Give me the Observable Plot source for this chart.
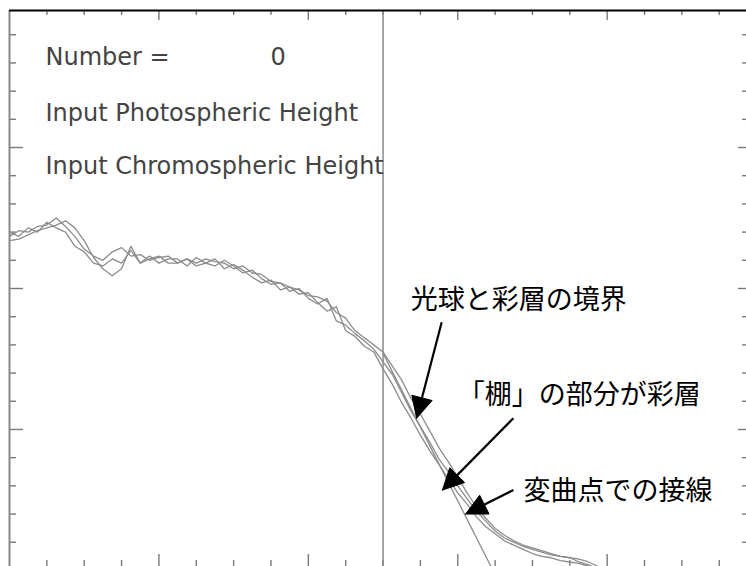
<!DOCTYPE html>
<html><head><meta charset="utf-8">
<script src="https://cdn.jsdelivr.net/npm/d3@7"></script>
<script src="https://cdn.jsdelivr.net/npm/@observablehq/plot@0.6"></script>
<style>
html,body{margin:0;padding:0;background:#fff;}
#chart svg{display:block;}
</style></head><body><div id="chart"></div>
<script>
// sample heights (x, arbitrary units; major tick every 4)
const heights = [0,0.25,0.5,0.75,1,1.25,1.5,1.75,2,2.25,2.5,2.75,3,3.25,3.5,3.75,4,4.25,4.5,4.75,5,5.25,5.5,5.75,6,6.25,6.5,6.75,7,7.25,7.5,7.75,8,8.25,8.5,8.75,9,9.25,9.5,9.75,10,10.25,10.5,10.75,11,11.25,11.5,11.75,12,12.25,12.5,12.75,13,13.25,13.5,13.75,14,14.25,14.5,14.75,15,15.25,15.5,15.75];
// three measured intensity profiles
const profileA = [2.37,2.41,2.40,2.44,2.45,2.50,2.44,2.37,2.28,2.23,2.20,2.26,2.29,2.23,2.24,2.20,2.22,2.23,2.18,2.21,2.18,2.21,2.19,2.18,2.14,2.16,2.11,2.10,2.05,2.04,2.01,1.99,1.95,1.94,1.91,1.83,1.79,1.70,1.65,1.60,1.55,1.45,1.35,1.22,1.11,0.99,0.87,0.77,0.66,0.55,0.45,0.37,0.30,0.25,0.21,0.18,0.16,0.14,0.12,0.10,0.09,0.08,0.06,0.03];
const profileB = [2.40,2.37,2.43,2.40,2.47,2.43,2.40,2.30,2.26,2.18,2.16,2.21,2.18,2.27,2.18,2.23,2.18,2.21,2.21,2.16,2.22,2.18,2.16,2.20,2.16,2.11,2.13,2.07,2.03,2.04,1.98,2.00,1.93,1.89,1.93,1.77,1.74,1.68,1.63,1.57,1.48,1.39,1.26,1.13,1.02,0.91,0.79,0.70,0.60,0.51,0.42,0.35,0.28,0.23,0.20,0.17,0.15,0.13,0.11,0.10,0.09,0.06,0.04,0.01];
const profileC = [2.34,2.35,2.38,2.41,2.43,2.45,2.48,2.43,2.34,2.22,2.14,2.09,2.14,2.30,2.18,2.21,2.23,2.18,2.18,2.21,2.16,2.18,2.21,2.14,2.17,2.13,2.08,2.04,2.06,1.99,2.01,1.96,1.97,1.90,1.84,1.87,1.70,1.66,1.59,1.55,1.43,1.32,1.19,1.08,0.96,0.85,0.75,0.65,0.55,0.47,0.38,0.31,0.26,0.21,0.18,0.15,0.12,0.10,0.09,0.07,0.06,0.05,0.03,0.00];
const boundaryHeight = 10;
const tangentX = [10, 13];
const tangentY = [1.54, -0.03];
const xMajorTicks = [4, 8, 12, 16];
const xMinorTicks = [1,2,3,5,6,7,9,10,11,13,14,15,17,18,19];
const yMajorTicks = [1, 2, 3];
const yMinorTicks = [0.2,0.4,0.6,0.8,1.2,1.4,1.6,1.8,2.2,2.4,2.6,2.8,3.2,3.4,3.6,3.8];
const infoLabels = ["Number =", "0", "Input Photospheric Height", "Input Chromospheric Height"];
const notes = ["光球と彩層の境界", "「棚」の部分が彩層", "変曲点での接線"];

const W = 746, H = 566, mt = 10, ml = 9;
const xDomain = [0, 19.73], yDomain = [0.028, 3.972];
const plotW = W - ml, plotH = H - mt;

const series = [];
[profileA, profileB, profileC].forEach((p, k) =>
  p.forEach((v, i) => series.push({h: heights[i], v, s: "abc"[k]})));

const infoPos = [[0.964, 3.64], [6.988, 3.64], [0.964, 3.24], [0.964, 2.865]];
const info = infoLabels.map((t, i) => ({t, x: infoPos[i][0], y: infoPos[i][1]}));
const notePos = [[10.74, 1.915], [12.0, 1.24], [13.76, 0.56]];
const noteData = notes.map((t, i) => ({t, x: notePos[i][0], y: notePos[i][1]}));

const arrowSpecs = [
  {x1: 11.57, y1: 1.76, x2: 10.90, y2: 1.08},
  {x1: 13.49, y1: 1.08, x2: 11.59, y2: 0.57},
  {x1: 13.49, y1: 0.57, x2: 12.21, y2: 0.40}
];
const sx = Plot.scale({x: {domain: xDomain, range: [ml, W]}});
const sy = Plot.scale({y: {domain: yDomain, range: [H, mt]}});
const shafts = [], heads = [];
arrowSpecs.forEach((a, i) => {
  const p1 = [sx.apply(a.x1), sy.apply(a.y1)], p2 = [sx.apply(a.x2), sy.apply(a.y2)];
  const dx = p2[0] - p1[0], dy = p2[1] - p1[1], n = Math.hypot(dx, dy);
  const ux = dx / n, uy = dy / n, L = 21, hw = 10.5;
  const bx = p2[0] - L * ux, by = p2[1] - L * uy;
  shafts.push({x1: a.x1, y1: a.y1, x2: sx.invert(p2[0] - 0.5 * L * ux), y2: sy.invert(p2[1] - 0.5 * L * uy)});
  const pts = [[p2[0], p2[1]], [bx - hw * uy, by + hw * ux], [bx + hw * uy, by - hw * ux], [p2[0], p2[1]]];
  pts.forEach(q => heads.push({id: i, x: sx.invert(q[0]), y: sy.invert(q[1])}));
});

const tickStyle = {stroke: "#7a7a7a", strokeWidth: 1.4};
const chart = Plot.plot({
  width: W, height: H,
  marginTop: mt, marginLeft: ml, marginRight: 0, marginBottom: 0,
  x: {domain: xDomain, axis: null},
  y: {domain: yDomain, axis: null},
  style: {background: "#fff"},
  marks: [
    Plot.tickX(xMinorTicks, {x: d => d, ...tickStyle, insetBottom: plotH - 5}),
    Plot.tickX(xMajorTicks, {x: d => d, ...tickStyle, insetBottom: plotH - 10}),
    Plot.tickX(xMinorTicks, {x: d => d, ...tickStyle, insetTop: plotH - 6}),
    Plot.tickX(xMajorTicks, {x: d => d, ...tickStyle, insetTop: plotH - 12}),
    Plot.tickY(yMinorTicks, {y: d => d, ...tickStyle, insetRight: plotW - 7}),
    Plot.tickY(yMajorTicks, {y: d => d, ...tickStyle, insetRight: plotW - 14}),
    Plot.tickY(yMinorTicks, {y: d => d, ...tickStyle, insetLeft: plotW - 4}),
    Plot.tickY(yMajorTicks, {y: d => d, ...tickStyle, insetLeft: plotW - 8}),
    Plot.ruleX([0], {stroke: "#888", strokeWidth: 2}),
    Plot.ruleX([boundaryHeight], {stroke: "#8a8a8a", strokeWidth: 1.5}),
    Plot.ruleY([yDomain[1]], {stroke: "#000", strokeWidth: 2.2}),
    Plot.line(series, {x: "h", y: "v", z: "s", stroke: "#8c8c8c", strokeWidth: 1.3, clip: true}),
    Plot.line(tangentX.map((x, i) => ({x, y: tangentY[i]})), {x: "x", y: "y", stroke: "#8c8c8c", strokeWidth: 1.3, clip: true}),
    Plot.text(info, {x: "x", y: "y", text: "t", textAnchor: "start", fontFamily: "DejaVu Sans", fontSize: 24, fill: "#444"}),
    Plot.link(shafts, {x1: "x1", y1: "y1", x2: "x2", y2: "y2", stroke: "#000", strokeWidth: 2.2}),
    Plot.line(heads, {x: "x", y: "y", z: "id", fill: "#000", stroke: "#000", strokeWidth: 1}),
    Plot.text(noteData, {x: "x", y: "y", text: "t", textAnchor: "start", fontFamily: "Noto Sans CJK JP", fontSize: 27, fill: "#000"})
  ]
});
document.getElementById("chart").appendChild(chart);
</script></body></html>
